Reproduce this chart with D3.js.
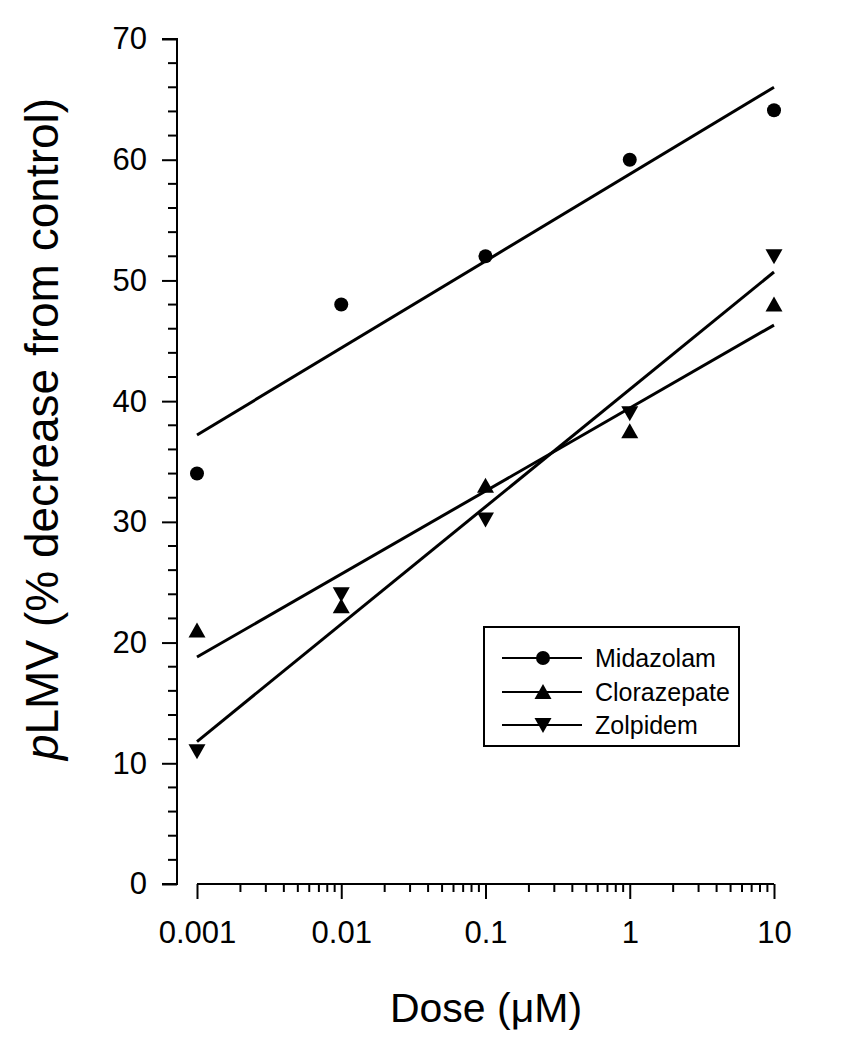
<!DOCTYPE html>
<html>
<head>
<meta charset="utf-8">
<script src="https://cdn.jsdelivr.net/npm/d3@7"></script>
<style>
  html, body { margin: 0; padding: 0; background: #fff; }
  text { font-family: Arial, "Liberation Sans", sans-serif; fill: #000; }
</style>
</head>
<body>
<svg id="chart" width="841" height="1050"></svg>
<script>
// ---- data ----
const doses = [0.001, 0.01, 0.1, 1, 10];
const midazolam = [34, 48, 52, 60, 64.1];
const clorazepate = [21, 23, 33, 37.5, 48];
const zolpidem = [11, 24, 30.2, 39, 52];
const fitDoses = [0.001, 10];
const midazolamFit = [37.2, 66.0];
const clorazepateFit = [18.8, 46.3];
const zolpidemFit = [11.8, 50.7];
const seriesNames = ["Midazolam", "Clorazepate", "Zolpidem"];
const xTickLabels = ["0.001", "0.01", "0.1", "1", "10"];
const yTickValues = [0, 10, 20, 30, 40, 50, 60, 70];

const svg = d3.select("#chart");
const x = d3.scaleLog().domain([0.001, 10]).range([197, 774]);
const y = d3.scaleLinear().domain([0, 70]).range([884, 39]);
const FONT = "Arial, 'Liberation Sans', sans-serif";

// ---- y axis ----
const yAxisX = 177;
const yAxis = d3.axisLeft(y).tickValues(yTickValues).tickSize(15).tickPadding(15).tickFormat(d3.format("d"));
const gy = svg.append("g").attr("transform", `translate(${yAxisX},0)`).call(yAxis);
gy.attr("font-family", null).attr("font-size", null);
gy.select(".domain").attr("d", `M-15,${y(70)}H0V${y(0)}H-15`).attr("stroke", "#000").attr("stroke-width", 2).attr("fill", "none");
gy.selectAll(".tick line").attr("stroke", "#000").attr("stroke-width", 2);
gy.selectAll(".tick text").attr("font-size", 31).style("font-family", FONT);
const yMinor = d3.range(0, 71, 2).filter(v => v % 10 !== 0);
gy.selectAll(".minor").data(yMinor).enter().append("line")
  .attr("x1", -9).attr("x2", 0).attr("y1", d => y(d)).attr("y2", d => y(d))
  .attr("stroke", "#000").attr("stroke-width", 2);

// ---- x axis ----
const xAxisY = 884;
const xAxis = d3.axisBottom(x).tickValues(doses).tickSize(15).tickPadding(22)
  .tickFormat((d, i) => xTickLabels[i]);
const gx = svg.append("g").attr("transform", `translate(0,${xAxisY})`).call(xAxis);
gx.attr("font-family", null).attr("font-size", null);
gx.select(".domain").attr("d", `M${x(0.001)},0H${x(10)}`).attr("stroke", "#000").attr("stroke-width", 2).attr("fill", "none");
gx.selectAll(".tick line").attr("stroke", "#000").attr("stroke-width", 2);
gx.selectAll(".tick text").attr("font-size", 31).style("font-family", FONT);
const xMinor = [];
[0.001, 0.01, 0.1, 1].forEach(dec => { for (let k = 2; k <= 9; k++) xMinor.push(dec * k); });
gx.selectAll(".minor").data(xMinor).enter().append("line")
  .attr("x1", d => x(d)).attr("x2", d => x(d)).attr("y1", 0).attr("y2", 8)
  .attr("stroke", "#000").attr("stroke-width", 2);

// ---- axis titles ----
svg.append("text").attr("x", 486).attr("y", 1022).attr("text-anchor", "middle")
  .attr("font-size", 41).text("Dose (\u03bcM)");
const yt = svg.append("text").attr("transform", "translate(58,429) rotate(-90)")
  .attr("text-anchor", "middle").attr("font-size", 46);
yt.append("tspan").attr("font-style", "italic").text("p");
yt.append("tspan").text("LMV (% decrease from control)");

// ---- markers ----
function marker(sel, type) {
  if (type === 0) {
    sel.append("circle").attr("r", 7).attr("fill", "#000");
  } else if (type === 1) {
    sel.append("path").attr("d", "M0,-8L8.5,7L-8.5,7Z").attr("fill", "#000");
  } else {
    sel.append("path").attr("d", "M0,8L8.5,-7L-8.5,-7Z").attr("fill", "#000");
  }
}

const allSeries = [midazolam, clorazepate, zolpidem];
const allFits = [midazolamFit, clorazepateFit, zolpidemFit];
const line = d3.line().x(d => x(d[0])).y(d => y(d[1]));

allFits.forEach(f => {
  svg.append("path").datum(fitDoses.map((d, i) => [d, f[i]]))
    .attr("d", line).attr("stroke", "#000").attr("stroke-width", 3).attr("fill", "none");
});
allSeries.forEach((s, si) => {
  s.forEach((v, i) => {
    const g = svg.append("g").attr("transform", `translate(${x(doses[i])},${y(v)})`);
    marker(g, si);
  });
});

// ---- legend ----
const lg = svg.append("g");
lg.append("rect").attr("x", 484).attr("y", 627).attr("width", 255).attr("height", 119)
  .attr("fill", "#fff").attr("stroke", "#000").attr("stroke-width", 2);
const rowsY = [658, 692, 725];
seriesNames.forEach((name, i) => {
  lg.append("line").attr("x1", 502).attr("x2", 582).attr("y1", rowsY[i]).attr("y2", rowsY[i])
    .attr("stroke", "#000").attr("stroke-width", 2);
  const g = lg.append("g").attr("transform", `translate(543,${rowsY[i]})`);
  marker(g, i);
  lg.append("text").attr("x", 595).attr("y", rowsY[i] + 9).attr("font-size", 25).text(name);
});
</script>
</body>
</html>
